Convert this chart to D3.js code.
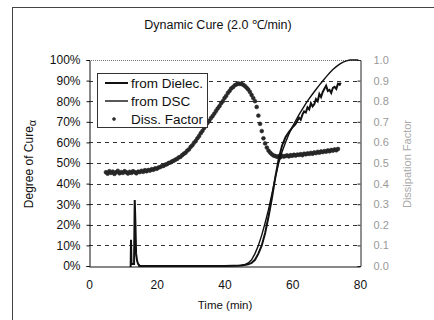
<!DOCTYPE html>
<html>
<head>
<meta charset="utf-8">
<script src="https://cdn.jsdelivr.net/npm/d3@7"></script>
<style>
  html, body { margin: 0; padding: 0; background: #fff; }
  svg { display: block; font-family: "Liberation Sans", Arial, sans-serif; }
</style>
</head>
<body>
<svg id="chart" width="434" height="320"></svg>
<script>
// Degree of cure from dielectric measurement (time in min, fraction cured)
const dielecTime = [12.0, 12.3, 12.4, 12.55, 13.3, 13.5, 13.7, 13.9, 14.2, 14.5, 15, 20, 30, 40, 45, 47, 48, 49, 50, 51, 52, 53, 54, 55, 56, 57, 58, 59, 60, 60.5, 61, 61.5, 62, 62.5, 63, 63.5, 64, 64.5, 65, 65.5, 66, 66.5, 67, 67.5, 68, 68.5, 69, 69.5, 70, 70.5, 71, 71.5, 72, 72.5, 73, 73.5, 74, 74.3];
const dielecCure = [0, 0, 0.127, 0.01, 0.01, 0.32, 0.21, 0.06, 0.025, 0.01, 0, 0, 0, 0, 0.003, 0.008, 0.015, 0.03, 0.06, 0.1, 0.16, 0.24, 0.33, 0.43, 0.52, 0.585, 0.625, 0.65, 0.672, 0.68, 0.69, 0.705, 0.72, 0.71, 0.735, 0.75, 0.745, 0.77, 0.76, 0.79, 0.775, 0.785, 0.81, 0.8, 0.835, 0.82, 0.845, 0.86, 0.875, 0.85, 0.855, 0.84, 0.865, 0.87, 0.86, 0.885, 0.88, 0.89];

// Degree of cure from DSC
const dscTime = [14.5, 20, 30, 40, 44, 46, 47, 48, 49, 50, 51, 52, 53, 54, 55, 56, 57, 58, 59, 60, 61, 62, 63, 64, 65, 66, 67, 68, 69, 70, 71, 72, 73, 74, 75, 76, 77, 78, 79.5];
const dscCure = [0, 0, 0, 0, 0.002, 0.006, 0.015, 0.03, 0.06, 0.1, 0.15, 0.21, 0.275, 0.35, 0.43, 0.5, 0.555, 0.6, 0.64, 0.675, 0.705, 0.735, 0.762, 0.788, 0.812, 0.835, 0.857, 0.878, 0.898, 0.918, 0.937, 0.954, 0.968, 0.98, 0.99, 0.996, 1.0, 1.0, 1.0];

// Dissipation factor samples (right axis)
const dissTime = [5, 5.5, 6, 6.5, 7, 7.5, 8, 8.5, 9, 9.5, 10, 10.5, 11, 11.5, 12, 12.5, 13, 13.5, 14, 14.5, 15, 15.5, 16, 16.5, 17, 17.5, 18, 18.5, 19, 19.5, 20, 20.5, 21, 21.5, 22, 22.5, 23, 23.5, 24, 24.5, 25, 25.5, 26, 26.5, 27, 27.5, 28, 28.5, 29, 29.5, 30, 30.5, 31, 31.5, 32, 32.5, 33, 33.5, 34, 34.5, 35, 35.5, 36, 36.5, 37, 37.5, 38, 38.5, 39, 39.5, 40, 40.5, 41, 41.5, 42, 42.5, 43, 43.5, 44, 44.5, 45, 45.5, 46, 46.5, 47, 47.5, 48, 48.5, 49, 49.5, 50, 50.5, 51, 51.5, 52, 52.5, 53, 53.5, 54, 54.5, 55, 55.5, 56, 56.5, 57, 57.5, 58, 58.5, 59, 59.5, 60, 60.5, 61, 61.5, 62, 62.5, 63, 63.5, 64, 64.5, 65, 65.5, 66, 66.5, 67, 67.5, 68, 68.5, 69, 69.5, 70, 70.5, 71, 71.5, 72, 72.5, 73, 73.5, 74, 74.5];
const dissFactor = [0.455, 0.448, 0.46, 0.452, 0.458, 0.447, 0.455, 0.462, 0.45, 0.456, 0.452, 0.46, 0.455, 0.449, 0.457, 0.452, 0.46, 0.455, 0.45, 0.458, 0.456, 0.462, 0.457, 0.465, 0.46, 0.466, 0.463, 0.47, 0.467, 0.474, 0.472, 0.478, 0.48, 0.485, 0.486, 0.492, 0.494, 0.5, 0.502, 0.508, 0.511, 0.516, 0.52, 0.527, 0.53, 0.538, 0.545, 0.55, 0.56, 0.566, 0.578, 0.586, 0.598, 0.607, 0.62, 0.631, 0.645, 0.656, 0.67, 0.681, 0.695, 0.705, 0.718, 0.728, 0.74, 0.753, 0.765, 0.776, 0.79, 0.8, 0.815, 0.826, 0.84, 0.85, 0.862, 0.868, 0.877, 0.881, 0.886, 0.884, 0.884, 0.88, 0.874, 0.866, 0.857, 0.845, 0.83, 0.815, 0.8, 0.772, 0.73, 0.69, 0.655, 0.62, 0.595, 0.575, 0.56, 0.55, 0.542, 0.536, 0.534, 0.53, 0.533, 0.528, 0.535, 0.531, 0.534, 0.537, 0.532, 0.538, 0.535, 0.54, 0.536, 0.541, 0.539, 0.543, 0.538, 0.545, 0.542, 0.547, 0.544, 0.549, 0.545, 0.551, 0.548, 0.554, 0.55, 0.556, 0.553, 0.558, 0.555, 0.561, 0.557, 0.563, 0.56, 0.566, 0.562, 0.568];

const xTicks = [0, 20, 40, 60, 80];
const leftTicks = [0, 0.1, 0.2, 0.3, 0.4, 0.5, 0.6, 0.7, 0.8, 0.9, 1.0];
const rightTickLabels = ["0.0", "0.1", "0.2", "0.3", "0.4", "0.5", "0.6", "0.7", "0.8", "0.9", "1.0"];
const legendLabels = ["from Dielec.", "from DSC", "Diss. Factor"];

const svg = d3.select("#chart");
const plot = { left: 89, right: 360, top: 60, bottom: 266 };

const x = d3.scaleLinear().domain([0, 80]).range([plot.left, plot.right]);
const yL = d3.scaleLinear().domain([0, 1]).range([plot.bottom, plot.top]);
const yR = d3.scaleLinear().domain([0, 1]).range([plot.bottom, plot.top]);

// outer frame
svg.append("rect").attr("x", 12.5).attr("y", 7.5).attr("width", 440).attr("height", 330)
  .attr("fill", "none").attr("stroke", "#444").attr("stroke-width", 1);

// title
svg.append("text").attr("x", 218).attr("y", 29).attr("text-anchor", "middle")
  .attr("font-size", 12.5).attr("fill", "#111").text("Dynamic Cure (2.0 \u2103/min)");

// gridlines
svg.append("g").selectAll("line").data(leftTicks.slice(1, 10)).join("line")
  .attr("x1", plot.left).attr("x2", plot.right)
  .attr("y1", d => Math.round(yL(d)) + 0.5).attr("y2", d => Math.round(yL(d)) + 0.5)
  .attr("stroke", "#333").attr("stroke-width", 1).attr("stroke-dasharray", "4,4");

// top border (dotted)
svg.append("line").attr("x1", plot.left).attr("x2", plot.right)
  .attr("y1", plot.top + 0.5).attr("y2", plot.top + 0.5)
  .attr("stroke", "#777").attr("stroke-dasharray", "1,1");

// left axis
const leftAxis = d3.axisLeft(yL).tickValues(leftTicks).tickSize(3).tickFormat(d3.format(".0%"));
const gL = svg.append("g").attr("transform", `translate(${plot.left + 0.5},0)`).call(leftAxis);
gL.select(".domain").attr("stroke", "#111");
gL.selectAll(".tick line").attr("stroke", "#111");
gL.selectAll(".tick text").attr("font-size", 12).attr("fill", "#111")
  .attr("font-family", "Liberation Sans, Arial, sans-serif").attr("x", -9);

// right axis
const rightAxis = d3.axisRight(yR).tickValues(leftTicks).tickSize(-3)
  .tickFormat((d, i) => rightTickLabels[i]);
const gR = svg.append("g").attr("transform", `translate(${plot.right + 0.5},0)`).call(rightAxis);
gR.select(".domain").attr("stroke", "#222");
gR.selectAll(".tick line").attr("stroke", "#222");
gR.selectAll(".tick text").attr("font-size", 11).attr("fill", "#999")
  .attr("font-family", "Liberation Sans, Arial, sans-serif").attr("x", 13);

// bottom axis
const bottomAxis = d3.axisBottom(x).tickValues(xTicks).tickSize(0).tickPadding(14);
const gB = svg.append("g").attr("transform", `translate(0,${plot.bottom + 0.5})`).call(bottomAxis);
gB.select(".domain").attr("stroke", "#111");
gB.selectAll(".tick text").attr("font-size", 12).attr("fill", "#111")
  .attr("font-family", "Liberation Sans, Arial, sans-serif");

// axis titles
svg.append("text").attr("x", 225).attr("y", 309).attr("text-anchor", "middle")
  .attr("font-size", 11.5).attr("fill", "#111").text("Time (min)");

const yTitle = svg.append("text").attr("transform", "translate(33,164) rotate(-90)")
  .attr("text-anchor", "middle").attr("font-size", 12).attr("fill", "#111");
yTitle.append("tspan").text("Degree of Cure");
yTitle.append("tspan").attr("dy", 3).attr("font-size", 11).text("\u03b1");

svg.append("text").attr("transform", "translate(411,164) rotate(-90)")
  .attr("text-anchor", "middle").attr("font-size", 11).attr("fill", "#aaa")
  .text("Dissipation Factor");

// data
const line = d3.line().x(d => x(d[0])).y(d => yL(d[1]));

svg.append("g").selectAll("circle").data(d3.zip(dissTime, dissFactor)).join("circle")
  .attr("cx", d => x(d[0])).attr("cy", d => yR(d[1])).attr("r", 1.9)
  .attr("fill", "#2a2a2a").attr("stroke", "#222").attr("stroke-width", 0.6);

svg.append("path").datum(d3.zip(dscTime, dscCure)).attr("d", line)
  .attr("fill", "none").attr("stroke", "#111").attr("stroke-width", 1.4);

svg.append("path").datum(d3.zip(dielecTime, dielecCure)).attr("d", line)
  .attr("fill", "none").attr("stroke", "#111").attr("stroke-width", 2);

// legend
const lg = svg.append("g");
lg.append("rect").attr("x", 97.5).attr("y", 73.5).attr("width", 110).attr("height", 54)
  .attr("fill", "#fff").attr("stroke", "#333");
const rowsY = [83, 101, 119];
lg.append("line").attr("x1", 105).attr("x2", 128).attr("y1", rowsY[0]).attr("y2", rowsY[0])
  .attr("stroke", "#111").attr("stroke-width", 2);
lg.append("line").attr("x1", 105).attr("x2", 128).attr("y1", rowsY[1]).attr("y2", rowsY[1])
  .attr("stroke", "#111").attr("stroke-width", 1.4);
lg.append("circle").attr("cx", 114).attr("cy", rowsY[2]).attr("r", 1.5)
  .attr("fill", "#333").attr("stroke", "#222").attr("stroke-width", 0.6);
lg.selectAll("text").data(legendLabels).join("text")
  .attr("x", 131).attr("y", (d, i) => rowsY[i] + 5).attr("font-size", 13.5).attr("fill", "#111")
  .text(d => d);
</script>
</body>
</html>
